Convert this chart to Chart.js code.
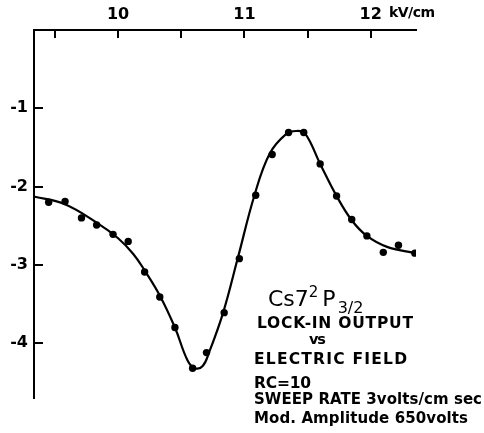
<!DOCTYPE html>
<html>
<head>
<meta charset="utf-8">
<script src="https://cdn.jsdelivr.net/npm/chart.js@4.4.1/dist/chart.umd.min.js"></script>
<style>
  html, body { margin: 0; padding: 0; background: #fff; }
  #wrap { width: 484px; height: 433px; }
</style>
</head>
<body>
<div id="wrap"><canvas id="chart" width="484" height="433"></canvas></div>
<script>
// Cs 7²P3/2 lock-in output vs electric field

// measured points (kV/cm, lock-in output)
const fieldPts = [9.45, 9.58, 9.71, 9.83, 9.96, 10.08, 10.21, 10.33, 10.45, 10.59, 10.70, 10.84,
  10.96, 11.09, 11.22, 11.35, 11.47, 11.60, 11.73, 11.85, 11.97, 12.10, 12.22, 12.35];
const outputPts = [-2.20, -2.19, -2.40, -2.49, -2.61, -2.70, -3.09, -3.41, -3.80, -4.32, -4.12, -3.61,
  -2.92, -2.11, -1.59, -1.31, -1.31, -1.71, -2.12, -2.42, -2.63, -2.84, -2.75, -2.85];

// hand drawn smooth curve through the points
const curveField = [9.34, 9.57, 9.83, 10.00, 10.12, 10.21, 10.33, 10.45, 10.55, 10.61, 10.67, 10.72,
  10.83, 10.95, 11.08, 11.20, 11.33, 11.41, 11.48, 11.60, 11.73, 11.85, 11.97, 12.13, 12.35];
const curveOutput = [-2.13, -2.22, -2.46, -2.66, -2.86, -3.07, -3.39, -3.80, -4.22, -4.32, -4.29, -4.12,
  -3.62, -2.90, -2.11, -1.58, -1.33, -1.29, -1.32, -1.71, -2.12, -2.43, -2.63, -2.77, -2.85];

const xTickValues = [9.5, 10, 10.5, 11, 11.5, 12];
const xTickLabels = ["", "10", "", "11", "", "12"];
const yTickValues = [-1, -2, -3, -4];
const yTickLabels = ["-1", "-2", "-3", "-4"];

const FONT = "DejaVu Sans";

function pairs(xs, ys) {
  return xs.map((x, i) => ({ x, y: ys[i] }));
}

// inward tick marks + lettering
const decor = {
  id: "decor",
  afterDraw(chart) {
    const ctx = chart.ctx;
    const xs = chart.scales.x, ys = chart.scales.y;
    const area = chart.chartArea;

    ctx.save();
    ctx.strokeStyle = "#000";
    ctx.lineWidth = 2;
    ctx.beginPath();
    xTickValues.forEach(v => {
      const px = Math.round(xs.getPixelForValue(v));
      ctx.moveTo(px, area.top);
      ctx.lineTo(px, area.top + 8);
    });
    yTickValues.forEach(v => {
      const py = Math.round(ys.getPixelForValue(v));
      ctx.moveTo(area.left, py);
      ctx.lineTo(area.left + 9, py);
    });
    ctx.stroke();

    ctx.fillStyle = "#000";
    ctx.textBaseline = "alphabetic";

    function fitText(text, x, y, size, width, weight) {
      ctx.font = `${weight || "bold"} ${size}px "${FONT}"`;
      ctx.letterSpacing = "0px";
      const w = ctx.measureText(text).width;
      const sp = width ? (width - w) / (text.length - 1) : 0;
      ctx.letterSpacing = sp + "px";
      ctx.fillText(text, x, y);
      ctx.letterSpacing = "0px";
    }

    // unit label
    fitText("kV/cm", 389, 17, 14, 46);

    // Cs 7²P3/2
    let x = 268;
    const parts = [
      { t: "Cs7", size: 22, dy: 0 },
      { t: "2", size: 15, dy: -9 },
      { t: "P", size: 22, dy: 0, gap: 4 },
      { t: "3/2", size: 16, dy: 7, gap: 2 },
    ];
    parts.forEach(p => {
      ctx.font = `normal ${p.size}px "${FONT}"`;
      x += p.gap || 0;
      ctx.fillText(p.t, x, 306 + p.dy);
      x += ctx.measureText(p.t).width;
    });

    fitText("LOCK-IN OUTPUT", 257, 328, 15.5, 156);
    fitText("vs", 309, 344, 14.5, 17);
    fitText("ELECTRIC FIELD", 254, 364, 15.5, 153);
    fitText("RC=10", 254, 388, 15.5, 57);
    fitText("SWEEP RATE 3volts/cm sec", 254, 404, 15, 228);
    fitText("Mod. Amplitude 650volts", 254, 423, 15, 214);
    ctx.restore();
  }
};

new Chart(document.getElementById("chart"), {
  type: "scatter",
  data: {
    datasets: [
      {
        data: pairs(curveField, curveOutput),
        showLine: true,
        borderColor: "#000",
        borderWidth: 2.2,
        pointRadius: 0,
        tension: 0.4,
        fill: false,
      },
      {
        data: pairs(fieldPts, outputPts),
        pointRadius: 3.7,
        pointBackgroundColor: "#000",
        pointBorderWidth: 0,
        showLine: false,
      },
    ],
  },
  options: {
    responsive: false,
    devicePixelRatio: 1,
    animation: false,
    layout: { padding: { left: 0, top: 0, right: 68, bottom: 35 } },
    plugins: { legend: { display: false }, tooltip: { enabled: false } },
    scales: {
      x: {
        type: "linear",
        position: "top",
        min: 9.334,
        max: 12.359,
        afterBuildTicks: s => { s.ticks = xTickValues.map(v => ({ value: v })); },
        afterFit: s => { s.height = 30; },
        grid: { display: true, drawOnChartArea: false, drawTicks: false },
        border: { display: true, color: "#000", width: 2 },
        ticks: {
          color: "#000",
          padding: 6,
          maxRotation: 0,
          autoSkip: false,
          font: { family: FONT, size: 16, weight: "bold" },
          callback: (v, i) => xTickLabels[i],
        },
      },
      y: {
        type: "linear",
        min: -4.7,
        max: 0,
        afterBuildTicks: s => { s.ticks = yTickValues.map(v => ({ value: v })); },
        afterFit: s => { s.width = 34; },
        grid: { display: true, drawOnChartArea: false, drawTicks: false },
        border: { display: true, color: "#000", width: 2 },
        ticks: {
          color: "#000",
          padding: 6,
          autoSkip: false,
          font: { family: FONT, size: 16, weight: "bold" },
          callback: (v, i) => yTickLabels[i],
        },
      },
    },
  },
  plugins: [decor],
});
</script>
</body>
</html>
